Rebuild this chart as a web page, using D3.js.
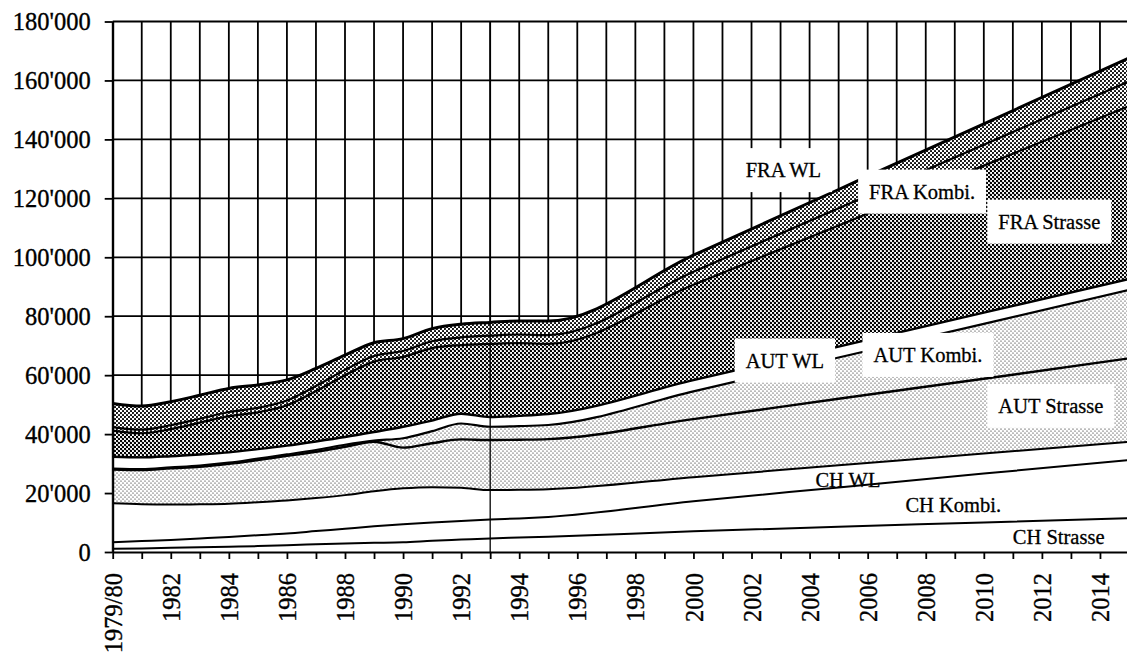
<!DOCTYPE html>
<html>
<head>
<meta charset="utf-8">
<script src="https://cdn.jsdelivr.net/npm/d3@7/dist/d3.min.js"></script>
<style>
  body { margin: 0; background: #fff; }
  svg { display: block; font-family: "Liberation Serif", "Times New Roman", serif; }
</style>
</head>
<body>
<svg id="chart" width="1127" height="657"></svg>
<script>
// years with a reading (forecast part read every 5 years)
const years = [1980, 1981, 1982, 1983, 1984, 1985, 1986, 1987, 1988, 1989, 1990, 1991, 1992, 1993, 1994, 1995, 2000, 2005, 2010, 2015];

// layers, bottom to top
const chStrasse  = [1100, 1200, 1400, 1600, 1800, 2000, 2300, 2600, 2900, 3100, 3300, 3800, 4200, 4600, 4900, 5200, 7000, 8600, 10000, 11500];
const chKombi    = [2200, 2500, 2700, 3000, 3300, 3700, 4000, 4500, 5000, 5600, 6100, 6200, 6300, 6400, 6500, 6700, 10200, 13300, 16600, 19700];
const chWL       = [13200, 12500, 12000, 11600, 11300, 11200, 11200, 11200, 11400, 11900, 12200, 12000, 11300, 10000, 9700, 9400, 8200, 7500, 6800, 6200];
const autStrasse = [11500, 11600, 12300, 12700, 13500, 14300, 15100, 15700, 16400, 16800, 13800, 14900, 16400, 17000, 17000, 17000, 19700, 22600, 25400, 28300];
const autKombi   = [300, 300, 300, 400, 400, 500, 500, 600, 700, 400, 3200, 4100, 5400, 4500, 4600, 4800, 9400, 14000, 18600, 23200];
const autWL      = [4000, 4000, 3800, 3800, 3500, 3200, 3000, 2900, 2600, 2900, 3900, 3600, 3300, 3300, 3500, 3700, 3800, 3700, 3800, 3700];
const fraStrasse = [8900, 8200, 9200, 10800, 12300, 12500, 13700, 17100, 21000, 23900, 23700, 24600, 23300, 24800, 24700, 23800, 32400, 41100, 49900, 58700];
const fraKombi   = [1200, 1200, 1300, 1300, 1400, 1500, 1600, 1700, 1800, 1900, 2000, 2300, 2600, 2800, 2900, 3000, 4400, 5800, 7100, 8400];
const fraWL      = [8000, 8000, 8000, 8000, 8000, 7800, 7000, 6000, 5000, 4500, 4200, 4300, 4500, 4500, 4600, 4800, 5600, 6400, 7100, 7900];

const yTicks = [0, 20000, 40000, 60000, 80000, 100000, 120000, 140000, 160000, 180000];
const xLabelYears = [1980, 1982, 1984, 1986, 1988, 1990, 1992, 1994, 1996, 1998, 2000, 2002, 2004, 2006, 2008, 2010, 2012, 2014];
const xTickLabels = ["1979/80", "1982", "1984", "1986", "1988", "1990", "1992", "1994", "1996", "1998", "2000", "2002", "2004", "2006", "2008", "2010", "2012", "2014"];

const seriesNames = ["CH Strasse", "CH Kombi.", "CH WL", "AUT Strasse", "AUT Kombi.", "AUT WL", "FRA Strasse", "FRA Kombi.", "FRA WL"];
const seriesValues = [chStrasse, chKombi, chWL, autStrasse, autKombi, autWL, fraStrasse, fraKombi, fraWL];

const svg = d3.select("#chart");
const W = 1127;

let x = d3.scaleLinear().domain([1980, 2015]).range([112.7, 1129]);
let y = d3.scaleLinear().domain([0, 180000]).range([552, 21.5]);

// table for the stack
const rows = years.map((yr, i) => {
    let r = { year: yr };
    seriesNames.forEach((n, j) => r[n] = seriesValues[j][i]);
    return r;
});
const stacked = d3.stack().keys(seriesNames)(rows);

// halftone patterns
const defs = svg.append("defs");
function dotPattern(id, r) {
    const p = defs.append("pattern")
        .attr("id", id)
        .attr("patternUnits", "userSpaceOnUse")
        .attr("width", 4)
        .attr("height", 4);
    p.append("rect").attr("width", 4).attr("height", 4).attr("fill", "white");
    p.append("circle").attr("cx", 1).attr("cy", 1).attr("r", r).attr("fill", "black");
    p.append("circle").attr("cx", 3).attr("cy", 3).attr("r", r).attr("fill", "black");
}
dotPattern("dark", 1.25);
dotPattern("medium", 1.05);
dotPattern("light", 0.6);

const fills = ["white", "white", "white", "url(#light)", "url(#light)", "white", "url(#dark)", "url(#medium)", "url(#medium)"];
const lineWidths = [2, 2, 2, 2.4, 2.2, 2.4, 2.2, 2.2, 3];

// grid
const grid = svg.append("g").attr("class", "grid").attr("stroke", "black");
grid.selectAll("line.v")
    .data(d3.range(1980, 2016))
    .join("line")
    .attr("class", "v")
    .attr("x1", d => x(d)).attr("x2", d => x(d))
    .attr("y1", y(180000)).attr("y2", y(0))
    .attr("stroke-width", 1.8);
grid.selectAll("line.h")
    .data(yTicks)
    .join("line")
    .attr("class", "h")
    .attr("x1", x(1980)).attr("x2", W)
    .attr("y1", d => y(d)).attr("y2", d => y(d))
    .attr("stroke-width", 1.8);

// areas
let area = d3.area()
    .x(d => x(d.data.year))
    .y0(d => y(d[0]))
    .y1(d => y(d[1]))
    .curve(d3.curveMonotoneX);

svg.append("g").attr("class", "areas")
    .selectAll("path")
    .data(stacked)
    .join("path")
    .attr("d", area)
    .attr("fill", (d, i) => fills[i])
    .attr("stroke", "none");

let topLine = d3.line()
    .x(d => x(d.data.year))
    .y(d => y(d[1]))
    .curve(d3.curveMonotoneX);

svg.append("g").attr("class", "lines")
    .selectAll("path")
    .data(stacked)
    .join("path")
    .attr("d", topLine)
    .attr("fill", "none")
    .attr("stroke", "black")
    .attr("stroke-width", (d, i) => lineWidths[i])
    .attr("stroke-linejoin", "round");

// 1993 marker line runs through the areas
svg.append("line")
    .attr("x1", x(1993)).attr("x2", x(1993))
    .attr("y1", y(180000)).attr("y2", y(0))
    .attr("stroke", "black")
    .attr("stroke-width", 1.3);

// axes
const fmt = v => d3.format(",")(v).replace(/,/g, "'");

const yAxis = svg.append("g")
    .attr("transform", `translate(${x(1980)},0)`)
    .call(d3.axisLeft(y).tickValues(yTicks).tickSize(8).tickSizeOuter(0).tickPadding(14).tickFormat(fmt));
yAxis.select(".domain").attr("stroke-width", 2);
yAxis.selectAll(".tick line").attr("stroke-width", 1.8);
yAxis.selectAll(".tick text")
    .attr("font-family", "Liberation Serif")
    .attr("font-size", "24.5px")
    .attr("fill", "black")
    .attr("stroke", "black")
    .attr("stroke-width", 0.35)
    .attr("dy", "0.34em");

const xAxis = svg.append("g")
    .attr("transform", `translate(0,${y(0)})`)
    .call(d3.axisBottom(x).tickValues(d3.range(1980, 2016)).tickSize(7).tickSizeOuter(0)
        .tickFormat(d => {
            let i = xLabelYears.indexOf(d);
            return i >= 0 ? xTickLabels[i] : "";
        }));
xAxis.select(".domain").attr("stroke-width", 2);
xAxis.selectAll(".tick line").attr("stroke-width", 1.8);
xAxis.selectAll(".tick text")
    .attr("font-family", "Liberation Serif")
    .attr("font-size", "24.5px")
    .attr("fill", "black")
    .attr("stroke", "black")
    .attr("stroke-width", 0.35)
    .attr("transform", "rotate(-90)")
    .attr("text-anchor", "end")
    .attr("x", -21)
    .attr("y", 0)
    .attr("dy", "0.35em");

// layer labels, anchored in data units (left edge of text, baseline)
const labels = [
    { text: "FRA WL", year: 2001.8, value: 127200, box: true },
    { text: "FRA Kombi.", year: 2006.05, value: 119900, box: true },
    { text: "FRA Strasse", year: 2010.5, value: 109700, box: true },
    { text: "AUT WL", year: 2001.8, value: 62600, box: true },
    { text: "AUT Kombi.", year: 2006.2, value: 64500, box: true },
    { text: "AUT Strasse", year: 2010.5, value: 47200, box: true },
    { text: "CH WL", year: 2004.2, value: 22200, box: false },
    { text: "CH Kombi.", year: 2007.3, value: 13700, box: false },
    { text: "CH Strasse", year: 2011, value: 2600, box: false }
];

const pad = 11;
const lab = svg.append("g").attr("class", "labels")
    .selectAll("g")
    .data(labels)
    .join("g");
lab.append("text")
    .attr("x", d => x(d.year))
    .attr("y", d => y(d.value))
    .attr("font-size", "20.5px")
    .attr("fill", "black")
    .attr("stroke", "black")
    .attr("stroke-width", 0.3)
    .text(d => d.text);
lab.each(function (d) {
    if (!d.box) return;
    let g = d3.select(this);
    let b = g.select("text").node().getBBox();
    g.insert("rect", "text")
        .attr("x", b.x - pad)
        .attr("y", b.y - pad)
        .attr("width", b.width + 2 * pad)
        .attr("height", b.height + 2 * pad)
        .attr("fill", "white");
});
</script>
</body>
</html>
